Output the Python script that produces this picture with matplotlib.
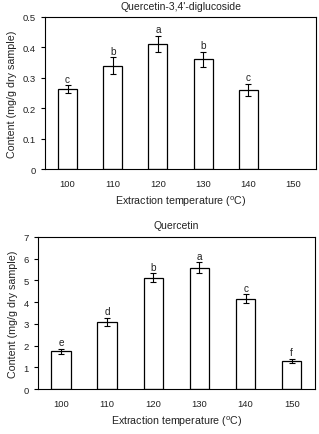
import matplotlib
matplotlib.use("Agg")
import matplotlib.pyplot as plt
from matplotlib.ticker import FuncFormatter

plt.rcParams['font.family'] = ['Liberation Sans', 'DejaVu Sans']
plt.rcParams['mathtext.default'] = 'regular'

temps = ['100', '110', '120', '130', '140', '150']

# Quercetin-3,4'-diglucoside (no bar at 150)
dig_vals = [0.263, 0.340, 0.410, 0.360, 0.260, 0]
dig_err = [0.012, 0.027, 0.027, 0.026, 0.020, 0]
dig_letters = ['c', 'b', 'a', 'b', 'c', '']

# Quercetin
que_vals = [1.73, 3.08, 5.12, 5.57, 4.15, 1.30]
que_err = [0.10, 0.20, 0.20, 0.25, 0.20, 0.10]
que_letters = ['e', 'd', 'b', 'a', 'c', 'f']

fig = plt.figure(figsize=(3.19, 4.35), dpi=100)
ax1 = fig.add_axes([0.141, 0.609, 0.850, 0.350])
ax2 = fig.add_axes([0.119, 0.1034, 0.868, 0.350])


def draw(ax, vals, errs, letters, title, ymax, ystep, fmt, pad):
    x = list(range(len(temps)))
    keep = [i for i in x if vals[i] > 0]
    ax.bar([x[i] for i in keep], [vals[i] for i in keep], width=0.42,
           color='white', edgecolor='black', linewidth=0.9)
    ax.errorbar([x[i] for i in keep], [vals[i] for i in keep],
                yerr=[errs[i] for i in keep], fmt='none', ecolor='black',
                elinewidth=0.8, capsize=2, capthick=0.8)
    for i in keep:
        ax.text(x[i], vals[i] + errs[i] + pad, letters[i], ha='center',
                va='bottom', fontsize=7.2, color='#222222')
    ax.set_xlim(-0.5, len(temps) - 0.5)
    ax.set_ylim(0, ymax)
    ax.set_xticks(x)
    ax.set_xticklabels(temps)
    ax.set_yticks([ystep * k for k in range(int(round(ymax / ystep)) + 1)])
    ax.yaxis.set_major_formatter(FuncFormatter(fmt))
    ax.tick_params(axis='x', length=0, labelsize=6.8, pad=7, labelcolor='#222222')
    ax.tick_params(axis='y', length=3, width=0.8, labelsize=6.8, direction='out',
                   labelcolor='#222222')
    for s in ax.spines.values():
        s.set_linewidth(0.8)
    ax.set_xlabel('Extraction temperature ($^{o}$C)', fontsize=7.7, labelpad=4,
                  color='#222222')
    ax.set_ylabel('Content (mg/g dry sample)', fontsize=7.7, color='#222222')
    ax.set_title(title, fontsize=7.5, pad=6, color='#222222')


draw(ax1, dig_vals, dig_err, dig_letters, "Quercetin-3,4'-diglucoside",
     0.5, 0.1, lambda v, p: '0' if v == 0 else f'{v:.1f}', 0.006)
draw(ax2, que_vals, que_err, que_letters, 'Quercetin',
     7, 1, lambda v, p: f'{v:.0f}', 0.08)

fig.savefig('out.png', dpi=100)
